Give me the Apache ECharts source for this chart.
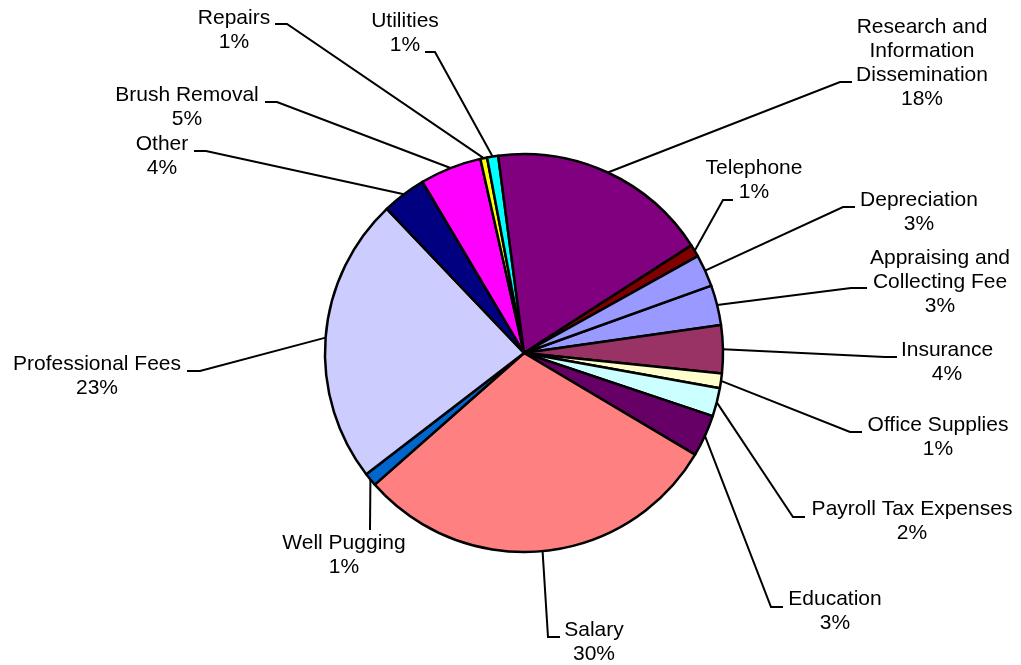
<!DOCTYPE html>
<html>
<head>
<meta charset="utf-8">
<script src="https://cdn.jsdelivr.net/npm/echarts@6/dist/echarts.min.js"></script>
<style>
  html, body { margin: 0; padding: 0; background: #fff; }
  #main { width: 1021px; height: 665px; }
</style>
</head>
<body>
<div id="main"></div>
<script>
// slices in drawing order (clockwise, first one starts at ~70deg from top)
const categories = [
  'Appraising and\nCollecting Fee', 'Insurance', 'Office Supplies', 'Payroll Tax Expenses',
  'Education', 'Salary', 'Well Pugging', 'Professional Fees', 'Other', 'Brush Removal',
  'Repairs', 'Utilities', 'Research and\nInformation\nDissemination', 'Telephone', 'Depreciation'
];
const shares = [3.25, 3.9, 1.2, 2.3, 3.4, 30, 1.08, 23.35, 3.6, 5, 0.55, 0.9, 18, 1, 2.6];

const sliceColors = [
  '#9999FF', '#993366', '#FFFFCC', '#CCFFFF', '#660066', '#FF8080', '#0066CC', '#CCCCFF',
  '#000080', '#FF00FF', '#FFFF00', '#00FFFF', '#800080', '#800000', '#9999FF'
];

// where each label sits (centre) and where its leader line meets it
const labelCenters = [
  [940, 282], [947, 362], [938, 437], [912, 521], [835, 611], [594, 642], [344, 555],
  [97, 376], [162, 156], [187, 107], [234, 30], [405, 33], [922, 63], [754, 180], [919, 212]
];
const leaderEnds = [
  [867, 288], [897, 357], [862, 432], [805, 517], [783, 607], [560, 637], [370, 530],
  [187, 371], [194, 151], [265, 102], [275, 24], [425, 52], [852, 82], [733, 200], [855, 207]
];
const leaderTail = [16, 12, 12, 12, 12, 12, 0, 13, 12, 12, 12, 10, 12, 10, 12];

const chart = echarts.init(document.getElementById('main'), null, { renderer: 'canvas' });

const seriesData = categories.map((name, i) => ({
  name: name,
  value: shares[i],
  itemStyle: { color: sliceColors[i] }
}));

chart.setOption({
  animation: false,
  backgroundColor: '#fff',
  series: [{
    type: 'pie',
    center: [524, 353],
    radius: 199,
    startAngle: 19.8,
    clockwise: true,
    avoidLabelOverlap: false,
    itemStyle: { borderColor: '#000', borderWidth: 2.5 },
    emphasis: { disabled: true },
    label: {
      show: true,
      position: 'outside',
      color: '#000',
      fontFamily: 'Liberation Sans, Arial, sans-serif',
      fontSize: 21,
      lineHeight: 24,
      align: 'center',
      formatter: function (p) {
        return p.name + '\n' + Math.round(p.percent) + '%';
      }
    },
    labelLine: {
      show: true,
      length: 20,
      length2: 12,
      smooth: false,
      lineStyle: { color: '#000', width: 2 }
    },
    labelLayout: function (p) {
      const i = p.dataIndex;
      const c = labelCenters[i];
      const e = leaderEnds[i];
      const start = p.labelLinePoints ? p.labelLinePoints[0] : e;
      const dir = start[0] > e[0] ? 1 : -1;
      return {
        x: c[0],
        y: c[1],
        align: 'center',
        verticalAlign: 'middle',
        labelLinePoints: [start, [e[0] + dir * leaderTail[i], e[1]], e]
      };
    },
    data: seriesData
  }]
});
</script>
</body>
</html>
